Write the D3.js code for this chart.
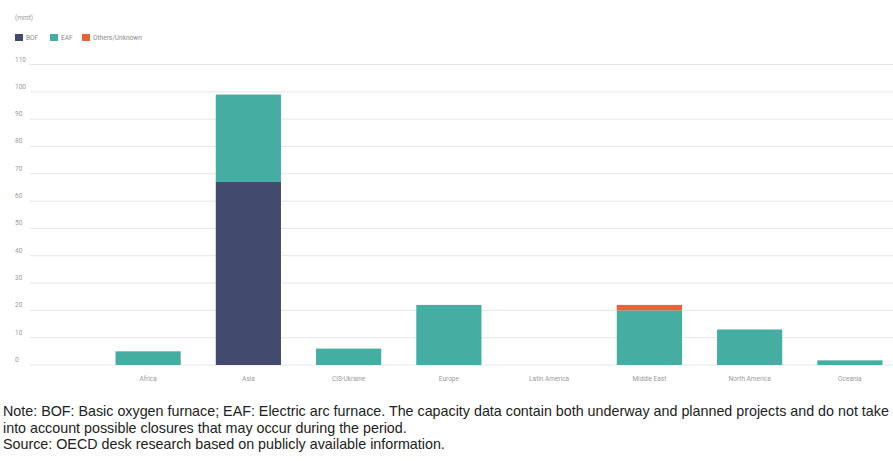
<!DOCTYPE html>
<html>
<head>
<meta charset="utf-8">
<script src="https://cdn.jsdelivr.net/npm/d3@7"></script>
<style>
  html, body { margin: 0; padding: 0; background: #fff; }
  svg { display: block; }
</style>
</head>
<body>
<svg id="chart" width="893" height="461"></svg>
<script>
// Regions and capacity additions (mmt) by process route
const regions = ["Africa", "Asia", "CIS-Ukraine", "Europe", "Latin America", "Middle East", "North America", "Oceania"];
const bof = [0, 67, 0, 0, 0, 0, 0, 0];
const eaf = [5, 32, 6, 22, 0, 20, 13, 1.7];
const others = [0, 0, 0, 0, 0, 2, 0, 0];
const seriesNames = ["BOF", "EAF", "Others/Unknown"];
const yTicks = [0, 10, 20, 30, 40, 50, 60, 70, 80, 90, 100, 110];
const noteLines = [
  "Note: BOF: Basic oxygen furnace; EAF: Electric arc furnace. The capacity data contain both underway and planned projects and do not take",
  "into account possible closures that may occur during the period.",
  "Source: OECD desk research based on publicly available information."
];

const colors = { "BOF": "#424a6e", "EAF": "#46ada2", "Others/Unknown": "#e8633a" };

const svg = d3.select("#chart");
const W = 893;

const rows = regions.map((r, i) => ({ region: r, "BOF": bof[i], "EAF": eaf[i], "Others/Unknown": others[i] }));
const stacked = d3.stack().keys(seriesNames)(rows);

const x = d3.scaleBand().domain(regions).range([98, 900]).paddingInner(0.35).paddingOuter(0.175);
const y = d3.scaleLinear().domain([0, 110]).range([365, 64.5]);

// Horizontal gridlines with left-aligned tick labels
const yAxis = svg.append("g");
yAxis.selectAll("line").data(yTicks).join("line")
  .attr("x1", 30).attr("x2", W)
  .attr("y1", d => y(d)).attr("y2", d => y(d))
  .attr("stroke", "#e6e6e6").attr("stroke-width", 1);
yAxis.selectAll("text").data(yTicks).join("text")
  .attr("x", 15).attr("y", d => y(d) - 3)
  .attr("font-family", "Roboto, 'Liberation Sans', sans-serif")
  .attr("font-size", 6.5).attr("fill", "#9a9a9a")
  .text(d => d);

// Stacked bars
svg.append("g").selectAll("g").data(stacked).join("g")
  .attr("fill", d => colors[d.key])
  .selectAll("rect").data(d => d).join("rect")
  .attr("x", d => x(d.data.region))
  .attr("width", x.bandwidth())
  .attr("y", d => y(d[1]))
  .attr("height", d => y(d[0]) - y(d[1]));

// Category labels
svg.append("g").selectAll("text").data(regions).join("text")
  .attr("x", d => x(d) + x.bandwidth() / 2).attr("y", 381)
  .attr("text-anchor", "middle")
  .attr("font-family", "Roboto, 'Liberation Sans', sans-serif")
  .attr("font-size", 6.5).attr("fill", "#9a9a9a")
  .text(d => d);

// Unit label
svg.append("text").attr("x", 15).attr("y", 20)
  .attr("font-family", "Roboto, 'Liberation Sans', sans-serif")
  .attr("font-size", 6.5).attr("fill", "#9a9a9a")
  .text("(mmt)");

// Legend
const legendX = [15, 50, 82];
const leg = svg.append("g").selectAll("g").data(seriesNames).join("g")
  .attr("transform", (d, i) => `translate(${legendX[i]},34)`);
leg.append("rect").attr("width", 8).attr("height", 7).attr("fill", d => colors[d]);
leg.append("text").attr("x", 11).attr("y", 6)
  .attr("font-family", "Roboto, 'Liberation Sans', sans-serif")
  .attr("font-size", 6.5).attr("fill", "#8a8a8a")
  .text(d => d);

// Note and source
svg.append("g").selectAll("text").data(noteLines).join("text")
  .attr("x", 3).attr("y", (d, i) => 416 + i * 16.5)
  .attr("font-family", "'Liberation Sans', Arial, sans-serif")
  .attr("font-size", 14.3).attr("fill", "#222")
  .text(d => d);
</script>
</body>
</html>
